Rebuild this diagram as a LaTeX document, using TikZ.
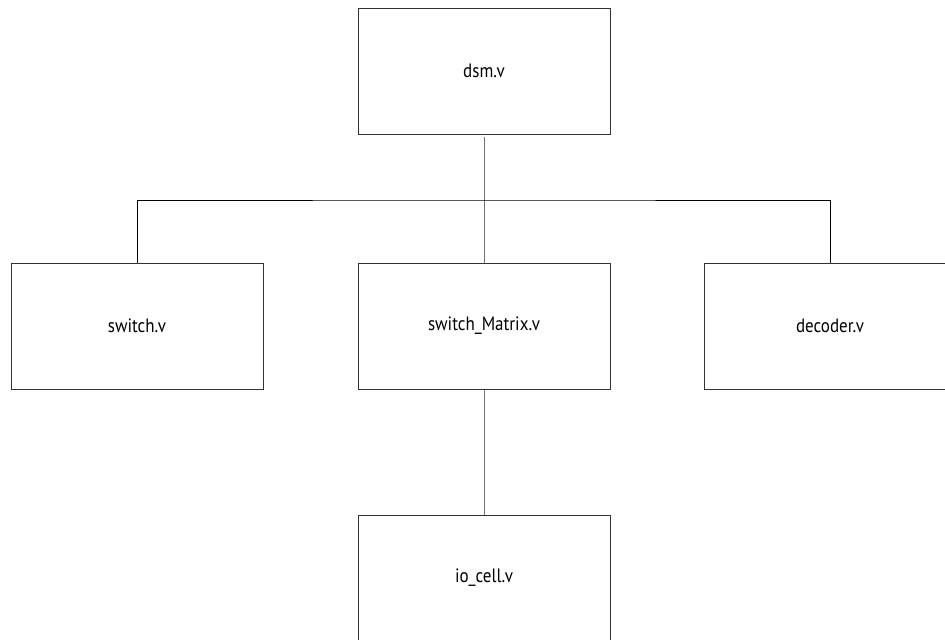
\documentclass[tikz,border=0pt]{standalone}
\usepackage{fontspec}
\setmainfont{PT Sans}[FakeStretch=0.88]
\usetikzlibrary{positioning}

\begin{document}
\begin{tikzpicture}[x=0.75pt, y=-0.75pt,
    module/.style={draw=black!80, line width=0.75pt, rectangle,
      minimum width=189pt, minimum height=94.5pt, inner sep=0pt,
      font=\fontsize{14.5}{17}\selectfont},
    link/.style={draw=black!55, line width=0.75pt},
    bus/.style={draw=black, line width=0.75pt}]
  % page frame
  \useasboundingbox (0,0) rectangle (945,639);

  % top level module
  \node[module] (dsm) at (484,71) {dsm.v};

  % submodules
  \node[module] (matrix) at (484,326) {switch\_Matrix.v};
  \node[module] (switch) at (137,326) {switch.v};
  \node[module] (decoder) at (830,326) {decoder.v};

  % leaf cell below the matrix
  \node[module] (iocell) at (484,578) {io\_cell.v};

  % hierarchy lines
  \coordinate (split) at (484,200);
  \draw[link, shorten <=2pt] (dsm.south) -- (matrix.north);
  \draw[bus] (switch.north) |- (split) -| (decoder.north);
  \draw[link] (matrix.south) -- (iocell.north);
\end{tikzpicture}
\end{document}
